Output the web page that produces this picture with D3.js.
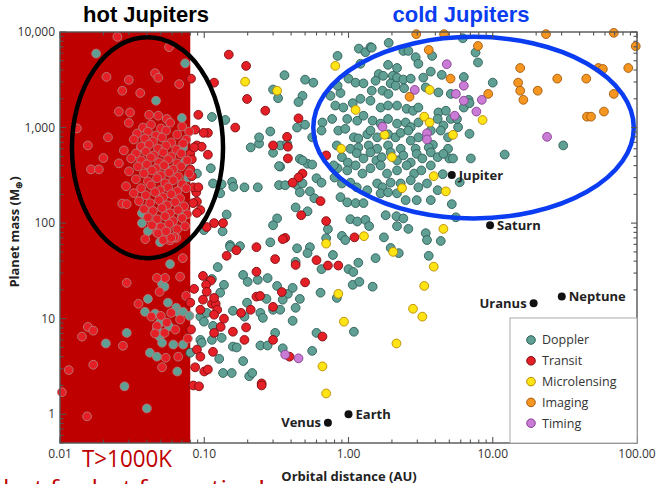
<!DOCTYPE html>
<html><head><meta charset="utf-8">
<script src="https://cdn.jsdelivr.net/npm/d3@7"></script>
<style>body{margin:0;background:#fff;overflow:hidden}svg{display:block}</style>
</head><body>
<svg id="chart" width="659" height="484"></svg>
<script>
// ---------- DATA (orbital distance AU, planet mass Earth masses) ----------
const doppler = [
[0.0178,5950],[0.0737,4700],[0.0463,1910],[0.070,1260],[0.113,1290],[0.140,1200],[0.0714,620],[0.0365,620],[0.0726,430],[0.0773,300],[0.0571,356],[0.111,375],[0.115,260],[0.132,255],[0.129,205],[0.037,127],[0.037,100],[0.0407,82],[0.0494,63],[0.0703,116],[0.0995,84.5],[0.134,82],[0.143,123],[0.151,59],[0.089,330],[0.156,270],[0.159,240],[0.19,237],[0.235,237],[0.33,250],[0.364,249],[0.44,249],[0.48,260],[0.60,295],[0.65,265],[0.46,470],[0.52,418],[0.56,410],[0.336,390],[0.21,620],[0.24,680],[0.30,545],[0.336,650],[0.375,680],[0.44,1000],[0.50,1070],[0.66,1130],[0.65,930],[0.56,790],[0.287,910],[0.24,790],[0.36,3530],[0.325,2030],[0.30,2500],[0.50,3170],[0.57,2950],[0.48,2150],[0.45,1850],[0.84,5620],
[0.33,395],[0.48,453],[0.46,210],[0.54,215],[0.43,146],[0.58,182],[0.52,133],[0.32,112],[0.30,95],[0.72,86.5],[1.03,110],[1.15,104],[1.31,108],[1.39,93],[0.90,73.5],[0.95,66.5],[0.70,69.5],[0.44,54.5],[0.54,56],[0.52,48.5],[0.78,46.4],[0.65,33],[1.0,33],[1.08,30.8],[1.17,38.5],[1.54,43],[1.76,71],[1.96,55],[2.23,48.5],[2.17,93],[2.6,87],[1.81,121],[2.15,118],[2.4,112],[3.43,78.5],[3.5,66.5],[4.36,65],[3.6,45.5],[1.07,22.6],[1.19,24.3],[1.47,21.6],[0.64,18.7],[0.83,16.5],[0.46,16.1],[0.32,22],[0.38,18.2],[0.30,12.4],[0.336,12.4],[0.43,13],[0.41,9.5],[0.31,7.1],[0.60,7.1],[1.09,7.3],[0.56,4.6],[0.35,4.9],[5.2,158],[5.55,115],[5.9,268],[12.1,522],[5.0,475],[30.8,650],
[0.058,37.3],[0.051,23.2],[0.053,21.6],[0.0407,16.1],[0.056,14.7],[0.0388,11.8],[0.0456,11.3],[0.064,13.0],[0.065,11.8],[0.0714,11.8],[0.079,10.7],[0.0494,9.1],[0.047,7.7],[0.057,8.3],[0.049,6.5],[0.051,5.6],[0.061,5.36],[0.0714,5.36],[0.042,4.4],[0.047,4.0],[0.080,4.4],[0.029,7.1],[0.0208,5.5],[0.065,2.8],[0.028,1.96],[0.040,1.15],[0.094,10.5],[0.104,11.5],[0.115,8.4],[0.0995,9.3],[0.094,6.0],[0.096,5.6],[0.113,6.0],[0.127,3.8],[0.132,6.3],[0.124,34.7],[0.113,26.0],[0.137,22.6],[0.129,18.7],[0.158,12.1],[0.19,10.5],[0.198,14.7],[0.186,28.7],[0.20,24.3],[0.235,25.5],[0.275,26.6],[0.41,21],[0.27,16.1],[0.35,15.8],[0.245,11.5],[0.255,10.2],[0.245,5.24],[0.275,5.24],[0.158,5.1],[0.168,5.0],[0.186,3.6],[0.155,2.7],[0.205,2.5],[0.215,2.7],[0.135,2.7],[0.151,56.5],[0.177,57.5],[0.287,63],[0.43,39.3],
[1.9,7700],[6.2,8600],[7.6,6100],[7.9,4800],[1.18,6700],[1.31,6150],[1.42,6950],[1.45,6850],[2.4,6340],[2.6,6340],[2.92,5450],[3.8,5620],[3.05,4650],[1.88,4530],[2.17,4200],[1.21,4650],[3.72,3850],[4.43,3560],[6.3,3380],[10,2950],[1.62,3630],[1.74,3480],[1.54,3090],[1.0,3250],[1.12,2950],[1.27,2900],[2.03,3480],[2.17,3330],[2.4,3180],[2.7,3250],[1.96,2900],[2.12,2740],[2.43,2580],[3.3,3330],[3.43,2630],[0.88,2300],[0.84,2740],[1.45,2430],[1.72,2430],[1.89,2250],[4.2,2330],[5.12,2250],[6.8,1950],[6.3,1620],[6.9,1800],[1.07,1800],[1.21,2000],[1.42,1910],[1.67,1620],[1.88,1700],[2.17,1700],[2.53,1570],[2.8,1500],[3.05,1620],[0.81,1700],[0.92,1620],[4.2,1440],[4.73,1500],[5.12,1230],[4.55,1050],[5.75,1010],[5.65,1230],[4.15,1230],[6.9,860],[0.98,1230],[1.15,1180],[1.27,1330],[1.47,1180],[1.67,1100],[1.88,1230],[2.17,1100],[2.49,1130],[2.7,1010],[3.05,1130],[3.72,930],[0.85,930],[0.95,970],[1.09,790],[1.17,770],[1.35,850],[1.42,930],[1.58,790],[1.88,850],[2.12,790],[2.3,880],[2.6,930],[2.7,730],[3.05,790],[3.85,660],[4.9,790],[4.36,930],[0.83,650],[1.03,600],[1.17,620],[1.38,650],[1.58,600],[1.88,650],[2.3,600],[2.92,600],[3.6,620],[4.9,600],[5.3,475],[7.05,475],[0.77,1230],[0.75,2150],
[0.90,490],[0.99,430],[1.14,540],[1.27,475],[1.42,550],[1.56,453],[1.70,490],[1.96,550],[2.17,453],[2.4,511],[2.7,430],[2.97,530],[3.25,475],[3.72,550],[4.15,490],[4.55,530],
[0.84,375],[0.98,356],[1.12,402],[1.25,330],[1.42,375],[1.67,402],[1.85,330],[2.17,356],[2.53,402],[2.85,330],[3.2,356],[3.72,402],
[0.90,260],[1.03,265],[1.14,237],[1.35,221],[1.58,260],[1.72,237],[1.96,265],[2.3,260],[2.7,281],[3.05,237],[3.5,260],[4.15,221],[4.5,325],
[0.88,187],[0.98,165],[1.12,162],[1.27,162],[1.67,205],[1.88,210],[2.17,205],[2.49,174],[2.97,174],[3.72,174],[0.79,402],[0.80,300]
];
const transit = [
[0.025,8900],[0.057,6950],[0.148,5800],[0.021,3390],[0.030,3150],[0.0456,3700],[0.048,3320],[0.027,2430],[0.036,2300],[0.067,2850],[0.081,3250],[0.117,2950],[0.195,4420],[0.198,1990],[0.265,1500],[0.0256,1470],[0.0306,1440],[0.030,1120],[0.0415,1360],[0.048,1330],[0.055,1230],[0.0131,980],[0.0156,650],[0.0164,365],[0.0186,365],[0.020,480],[0.0215,790],[0.0865,950],[0.089,650],[0.096,630],[0.106,880],[0.091,1360],[0.099,880],[0.088,210],[0.089,168],[0.094,137],[0.089,128],[0.117,100],[0.135,100],[0.104,91],[0.027,160],[0.029,158],[0.039,68],[0.047,80],[0.049,91],[0.055,84],[0.058,66],[0.064,70],[0.071,43],[0.164,1000],[0.45,1250],[0.375,800],[0.30,650],[0.38,630],[0.38,475],[0.70,511],[0.48,330],[0.45,300],[0.41,265],[0.64,170],[0.47,121],[0.70,105],[0.364,70],[0.35,68],[1.1,71],[0.31,42],[0.43,36.5],[0.60,41],[0.72,36],[0.85,36],[0.50,24],[0.345,19],[0.30,13.3],[0.66,6.5],[0.30,6.0],[0.39,4.0],[0.080,530],[0.082,465],[0.080,365],[0.082,310],[0.070,249],[0.084,237],[0.091,237],[0.106,520],
[0.029,23.7],[0.0535,26.7],[0.047,26.7],[0.068,27.5],[0.049,19.1],[0.035,14.3],[0.075,17.3],[0.080,14.7],[0.085,20.5],[0.098,28],[0.111,25],[0.103,22.6],[0.104,19.1],[0.098,15.8],[0.094,12.4],[0.113,14.3],[0.12,14.3],[0.117,16.5],[0.123,12.4],[0.043,10.5],[0.05,10.7],[0.059,11.5],[0.068,9.8],[0.055,9.1],[0.047,8.4],[0.063,7.7],[0.053,7.1],[0.0456,7.0],[0.081,7.7],[0.077,6.2],[0.117,11.0],[0.137,10.0],[0.13,8.2],[0.117,7.1],[0.158,7.3],[0.18,11.5],[0.195,8.1],[0.21,12.4],[0.19,6.0],[0.23,17],[0.244,17.3],[0.23,31],[0.143,45.5],[0.167,52],[0.23,56],[0.089,4.75],[0.094,4.0],[0.115,4.5],[0.054,3.9],[0.066,4.0],[0.051,3.1],[0.0865,3.1],[0.1,2.8],[0.106,2.94],[0.0156,8.2],[0.017,7.5],[0.0142,6.5],[0.0273,5.2],[0.017,3.3],[0.0115,2.9],[0.0103,1.7],[0.0154,0.95],[0.084,2.0],[0.092,1.96],[0.25,2.1],[0.25,2.0],
[0.0376,1000],[0.0427,1075],[0.0502,978],[0.058,1125],[0.0703,1025],
[0.0342,866],[0.0407,908],[0.0463,825],[0.0544,930],[0.0649,845],[0.0786,908],
[0.0325,750],[0.0388,768],[0.0441,715],[0.051,787],[0.059,698],[0.0749,750],
[0.0365,634],[0.0414,665],[0.0478,604],[0.0544,649],[0.0639,590],[0.0714,681],[0.0851,619],
[0.0277,576],[0.0336,536],[0.0394,562],[0.0448,511],[0.0519,549],[0.059,499],[0.0692,536],
[0.0311,475],[0.0365,453],[0.0427,487],[0.0486,432],[0.0562,464],[0.0649,422],[0.0761,453],
[0.0256,422],[0.0347,392],[0.040,412],[0.0463,374],[0.0527,402],[0.0609,365],[0.0692,392],
[0.0301,348],[0.0382,331],[0.0434,356],[0.0502,316],[0.0571,339],[0.0659,308],[0.0786,331],
[0.0336,288],[0.0407,274],[0.0471,295],[0.0535,262],[0.0609,281],[0.0703,256],
[0.0287,243],[0.0365,232],[0.0427,249],[0.0494,221],[0.0562,237],[0.0649,216],[0.0749,232],
[0.0325,206],[0.0394,196],[0.0456,211],[0.0519,187],[0.059,201],[0.068,182],
[0.0353,170],[0.0421,162],[0.0486,174],[0.0553,154],[0.0628,166],[0.0726,150],[0.0838,162],
[0.0382,140],[0.0441,134],[0.051,144],[0.058,127],[0.0659,137],[0.0761,124],
[0.0407,115],[0.0471,110],[0.0535,118],[0.0609,105],[0.0703,113],
[0.0434,95],[0.0502,91],[0.0571,98],[0.0649,86.5],[0.0737,93],
[0.0478,78],[0.0544,82],[0.0619,71.5],
[0.0519,66.5],[0.059,70]
];
const microlensing = [
[0.81,4420],[0.192,3020],[0.32,2430],[3.65,2480],[1.12,1530],[3.35,1300],[3.65,1130],[8.5,1200],[1.78,840],[5.3,840],[0.89,600],[2.0,490],[3.9,310],[2.35,232],[4.73,215],[4.55,87],[1.28,73],[0.70,61],[2.04,50],[3.9,35],[3.35,22],[0.85,18.2],[2.8,12.7],[3.25,10.5],[0.93,9.3],[2.15,5.5],[0.66,3.17],[0.70,1.65]
];
const imaging = [
[2.95,9500],[4.6,9500],[23.4,9500],[69,9800],[98,7100],[3.6,6500],[7.9,7150],[15.5,4200],[54,4200],[58,4100],[87,4200],[5.1,3250],[15,2950],[28,3250],[44.5,3250],[15.5,2430],[20.5,2430],[16.3,1950],[9.3,2250],[2.65,2100],[69,2250],[59,1470],[45,1300],[48,1300]
];
const timing = [
[4.8,4600],[2.88,2480],[6.3,2740],[5.55,2250],[6.3,1910],[8.4,1950],[7.7,1470],[5.45,1330],[1.72,1020],[3.5,870],[3.5,750],[23.8,800],[0.364,4.2],[0.45,3.85]
];
const planetNames = ["Jupiter","Saturn","Uranus","Neptune","Earth","Venus"];
const planetA = [5.2, 9.58, 19.2, 30.1, 1.0, 0.72];
const planetM = [318, 95.2, 14.5, 17.1, 1.0, 0.815];
const planetLabelSide = ["right","right","left","right","right","left"];
const xTickValues = [0.01, 0.1, 1, 10, 100];
const xTickLabels = ["0.01","0.10","1.00","10.00","100.00"];
const yTickValues = [1, 10, 100, 1000, 10000];
const yTickLabels = ["1","10","100","1,000","10,000"];
const legendNames = ["Doppler","Transit","Microlensing","Imaging","Timing"];
const hotZoneAU = [0.01, 0.08];
const hotEllipseAU = [0.0121, 0.135], hotEllipseM = [43, 8800];
const coldEllipseAU = [0.57, 95], coldEllipseM = [112, 8900];

// ---------- STYLE ----------
const styles = {
  Doppler:      {fill:"#5f9f94", stroke:"#2f5f58"},
  Transit:      {fill:"#e41f26", stroke:"#7d0e12"},
  Microlensing: {fill:"#ffe415", stroke:"#b88a00"},
  Imaging:      {fill:"#f4961f", stroke:"#a5590e"},
  Timing:       {fill:"#c97bd6", stroke:"#84418f"}
};
const series = {Doppler:doppler, Transit:transit, Microlensing:microlensing, Imaging:imaging, Timing:timing};

const L=60, R=637, T=32, B=443;
const svg = d3.select("#chart");
const x = d3.scaleLog().domain([0.01,100]).range([L,R]);
const y = d3.scaleLog().domain([0.5,10000]).range([B,T]);

// hot zone
svg.append("rect").attr("x",x(hotZoneAU[0])).attr("y",T)
  .attr("width",x(hotZoneAU[1])-x(hotZoneAU[0])).attr("height",B-T).attr("fill","#bf0000");

// points
const R0 = 4.4;
legendNames.forEach(name=>{
  const st = styles[name];
  svg.append("g").selectAll("circle").data(series[name]).join("circle")
    .attr("cx",d=>x(d[0])).attr("cy",d=>y(d[1])).attr("r",R0)
    .attr("fill",st.fill)
    .attr("stroke",d=> d[0] < hotZoneAU[1] ? "#b77a7a" : st.stroke)
    .attr("stroke-width",0.9);
});

// ellipses
function ellipse(aR, mR, color){
  const x0=x(aR[0]), x1=x(aR[1]), y0=y(mR[1]), y1=y(mR[0]);
  svg.append("ellipse").attr("cx",(x0+x1)/2).attr("cy",(y0+y1)/2)
    .attr("rx",(x1-x0)/2).attr("ry",(y1-y0)/2)
    .attr("fill","none").attr("stroke",color).attr("stroke-width",4.5);
}
ellipse(hotEllipseAU, hotEllipseM, "#000");
ellipse(coldEllipseAU, coldEllipseM, "#0a3cf2");

// frame + ticks
const axisColor = "#555";
svg.append("rect").attr("x",L).attr("y",T).attr("width",R-L).attr("height",B-T)
  .attr("fill","none").attr("stroke",axisColor).attr("stroke-width",1.4);
const isMajor = v => Math.abs(Math.log10(v) - Math.round(Math.log10(v))) < 1e-6;
const xt = x.ticks();
const yt = y.ticks();
const tg = svg.append("g").attr("stroke",axisColor).attr("stroke-width",1.1);
xt.forEach(v=>{
  const len = isMajor(v)?6:3.5, px = x(v);
  tg.append("line").attr("x1",px).attr("x2",px).attr("y1",B).attr("y2",B-len);
  tg.append("line").attr("x1",px).attr("x2",px).attr("y1",T).attr("y2",T+len);
});
yt.forEach(v=>{
  const len = isMajor(v)?6:3.5, py = y(v);
  tg.append("line").attr("x1",L).attr("x2",L+len).attr("y1",py).attr("y2",py);
  tg.append("line").attr("x1",R).attr("x2",R-len).attr("y1",py).attr("y2",py);
});

const tickFont = "'Open Sans', 'Noto Sans', sans-serif";
xTickValues.forEach((v,i)=>{
  svg.append("text").attr("x",x(v)).attr("y",458).attr("text-anchor","middle")
    .attr("font-family",tickFont).attr("font-size",12).attr("fill","#333").text(xTickLabels[i]);
});
yTickValues.forEach((v,i)=>{
  svg.append("text").attr("x",55).attr("y",y(v)).attr("dy","0.35em").attr("text-anchor","end")
    .attr("font-family",tickFont).attr("font-size",12).attr("fill","#333").text(yTickLabels[i]);
});

// axis titles
svg.append("text").attr("x",349).attr("y",481).attr("text-anchor","middle")
  .attr("font-family",tickFont).attr("font-weight","bold").attr("font-size",13).attr("fill","#222")
  .text("Orbital distance (AU)");
const yl = svg.append("text").attr("transform","translate(19,232) rotate(-90)").attr("text-anchor","middle")
  .attr("font-family",tickFont).attr("font-weight","bold").attr("font-size",13).attr("fill","#222");
yl.append("tspan").text("Planet mass (M");
yl.append("tspan").attr("font-size",9).attr("dy",3).text("⊕");
yl.append("tspan").attr("dy",-3).text(")");

// legend
const lgX = 510, lgY = 318;
svg.append("rect").attr("x",lgX).attr("y",lgY).attr("width",R-lgX).attr("height",B-lgY)
  .attr("fill","#fff").attr("stroke","#aaa").attr("stroke-width",1);
legendNames.forEach((name,i)=>{
  const cy = 340 + i*20.8;
  svg.append("circle").attr("cx",531).attr("cy",cy).attr("r",4.3)
    .attr("fill",styles[name].fill).attr("stroke",styles[name].stroke).attr("stroke-width",1);
  svg.append("text").attr("x",542).attr("y",cy).attr("dy","0.35em")
    .attr("font-family",tickFont).attr("font-size",12.5).attr("fill","#333").text(name);
});

// planets
planetNames.forEach((n,i)=>{
  const px = x(planetA[i]), py = y(planetM[i]);
  svg.append("circle").attr("cx",px).attr("cy",py).attr("r",4).attr("fill","#111");
  svg.append("text").attr("x", planetLabelSide[i]==="right"? px+7 : px-7).attr("y",py).attr("dy","0.35em")
    .attr("text-anchor", planetLabelSide[i]==="right"?"start":"end")
    .attr("font-family",tickFont).attr("font-weight","bold").attr("font-size",13).attr("fill","#222").text(n);
});

// titles / annotations
svg.append("text").attr("x",146).attr("y",22).attr("text-anchor","middle")
  .attr("font-family","'Liberation Sans', Arial, sans-serif").attr("font-weight","bold").attr("font-size",22)
  .attr("fill","#000").text("hot Jupiters");
svg.append("text").attr("x",461).attr("y",22).attr("text-anchor","middle")
  .attr("font-family","'Liberation Sans', Arial, sans-serif").attr("font-weight","bold").attr("font-size",22)
  .attr("fill","#0a3cf2").text("cold Jupiters");
svg.append("text").attr("x",82).attr("y",467).attr("textLength",90).attr("lengthAdjust","spacingAndGlyphs")
  .attr("font-family",tickFont).attr("font-size",24).attr("fill","#c00000").text("T>1000K");
svg.append("text").attr("x",3).attr("y",497).attr("textLength",262).attr("lengthAdjust","spacingAndGlyphs")
  .attr("font-family",tickFont).attr("font-size",24).attr("fill","#c00000").text("hot for hot formation!");
</script>
</body></html>
